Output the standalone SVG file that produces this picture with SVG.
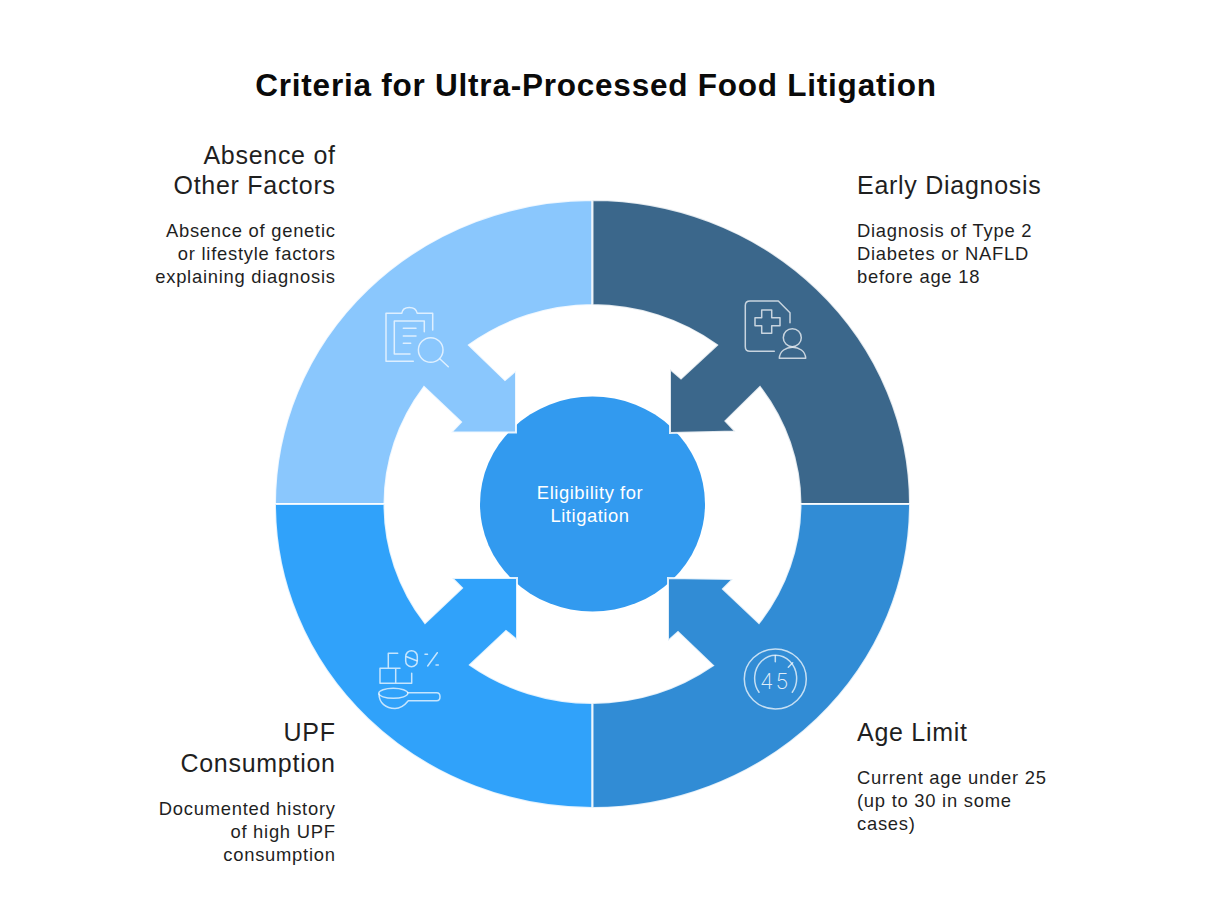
<svg xmlns="http://www.w3.org/2000/svg" width="1210" height="914" viewBox="0 0 1210 914">
<style>
text{font-family:"Liberation Sans",Arial,sans-serif;fill:#1f1f1f}
.title{font-size:31.5px;font-weight:700;fill:#0a0a0a;letter-spacing:.77px}
.h{font-size:25px;letter-spacing:.72px}
.b{font-size:18.4px;letter-spacing:.74px}
.e{text-anchor:end}
.seg{stroke:#fff;stroke-width:2;stroke-opacity:.85;stroke-linejoin:miter}
.ic{fill:none;stroke:#fff;stroke-width:1.5;stroke-opacity:.72;stroke-linecap:round;stroke-linejoin:round}
.c{font-size:18.4px;fill:#fff;text-anchor:middle;letter-spacing:.55px}
</style>
<rect width="1210" height="914" fill="#fff"/>
<text class="title" x="596" y="96" text-anchor="middle">Criteria for Ultra-Processed Food Litigation</text>
<g id="node-center">
<ellipse cx="592.500" cy="504" rx="112.500" ry="107.500" fill="#329AEF"/>
<text class="c" x="590" y="499">Eligibility for</text>
<text class="c" x="590" y="522">Litigation</text>
</g>
<g id="connectors">
<path id="seg-tl" class="seg" fill="#8AC7FD" d="M592.500 200A317.500 304 0 0 0 275 504H384.500A208 199 0 0 1 424 387L461 422L451 432.500H516V370.500L505 380L469 345A208 199 0 0 1 592.500 305Z"/>
<path id="seg-tr" class="seg" fill="#3B678B" d="M592.500 200A317.500 304 0 0 1 910 504H800.500A208 199 0 0 0 760 387L725.500 421L735.500 431.500L670 433V369L681 378.500L717 345A208 199 0 0 0 592.500 305Z"/>
<path id="seg-bl" class="seg" fill="#30A2FA" d="M275 504A317.500 304 0 0 0 592.500 808V703A208 199 0 0 1 470 665L506 631L517 640V578H452L462 588L425 623A208 199 0 0 1 384.500 504Z"/>
<path id="seg-br" class="seg" fill="#318CD5" d="M910 504A317.500 304 0 0 1 592.500 808V703A208 199 0 0 0 713 665.500L678 632L668 641V578L733 579L723 589L759 623A208 199 0 0 0 800.500 504Z"/>
</g>
<g id="node-absence">
<text class="h e" x="335.700" y="164">Absence of</text>
<text class="h e" x="335.700" y="194">Other Factors</text>
<text class="b e" x="335.700" y="237">Absence of genetic</text>
<text class="b e" x="335.700" y="260">or lifestyle factors</text>
<text class="b e" x="335.700" y="283">explaining diagnosis</text>
<g class="ic">
<path d="M413.300 361.300H386V313.300H401.700C403 305.500 415.500 305.500 417.300 313.300H432.700V330"/>
<path d="M410 354H394.300V321H424.300V331.700"/>
<path d="M403.300 328.300H416M403.300 336H416M403.300 343.300H410.700"/>
<circle cx="430.700" cy="350" r="12.300"/>
<path d="M440 359L448.300 366.700"/>
</g>
</g>
<g id="node-early">
<text class="h" x="857" y="194">Early Diagnosis</text>
<text class="b" x="857" y="237">Diagnosis of Type 2</text>
<text class="b" x="857" y="260">Diabetes or NAFLD</text>
<text class="b" x="857" y="283">before age 18</text>
<g class="ic">
<path d="M774.300 351.300H750Q745.300 351.300 745.300 346.700V305.500Q745.300 301 750 301H778.300L790 312.700V322.700"/>
<path d="M761.700 310H771.700V317.700H780V325.700H771.700V333.300H761.700V325.700H755V317.700H761.700Z"/>
<circle cx="792.300" cy="337.700" r="9"/>
<path d="M779.300 358.300C780 343.500 805 343.500 805.700 358.300Z"/>
</g>
</g>
<g id="node-upf">
<text class="h e" x="335.700" y="741">UPF</text>
<text class="h e" x="335.700" y="772">Consumption</text>
<text class="b e" x="335.700" y="815">Documented history</text>
<text class="b e" x="335.700" y="838">of high UPF</text>
<text class="b e" x="335.700" y="861">consumption</text>
<g class="ic">
<path d="M380 668.300H395.700V683.300H380ZM395.700 668.300H400M388.300 668.300V653.300H397.700M395.700 683.300H411.700V673.300"/>
<rect x="405.700" y="650.700" width="11.600" height="16" rx="5.800"/>
<path d="M406.700 656.700L416.700 660.700M427.700 666L437.300 652.700M425 654.300L427.500 654.300M436 665L438.300 665"/>
<ellipse cx="393.300" cy="693.300" rx="14.500" ry="5"/>
<path d="M379 694C379 703 386 708.500 395 708.500C400 708.500 404 706 408.300 700.700H436.700Q440 700.700 440 696.700Q440 692.700 436.700 692.700H407.700"/>
</g>
</g>
<g id="node-age">
<text class="h" x="857" y="741">Age Limit</text>
<text class="b" x="857" y="784">Current age under 25</text>
<text class="b" x="857" y="807">(up to 30 in some</text>
<text class="b" x="857" y="830">cases)</text>
<g class="ic">
<ellipse cx="775.300" cy="679" rx="31" ry="30"/>
<path d="M759 692.300A21 23 0 1 1 792.300 692.300"/>
<path d="M775.300 655.700V661.700M788.300 667.300L792.700 662.700"/>
</g>
<text x="775.500" y="688.500" font-size="22" text-anchor="middle" style="font-family:Inter,'Liberation Sans',sans-serif;font-weight:200;fill:#fff;fill-opacity:.85;letter-spacing:2.500px">45</text>
</g>
</svg>
